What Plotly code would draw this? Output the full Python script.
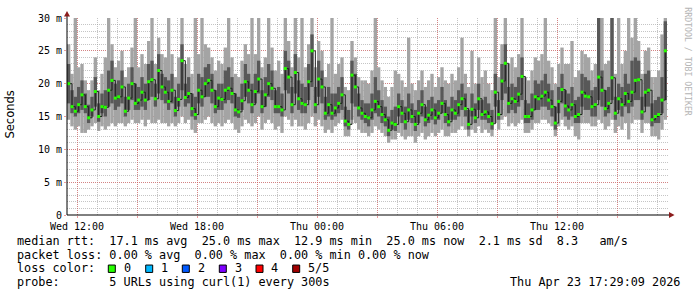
import pandas as pd
import plotly.graph_objects as go

# ---------------- data (milliseconds) ----------------
START = "2026-04-22 11:35"     # centre of first 10-minute bin
STEP = "10min"

median_ms = [
20.0,16.5,15.8,16.8,18.3,16.5,14.8,16.0,18.8,15.0,
16.5,16.4,19.0,20.5,17.8,18.0,19.5,15.8,17.8,20.0,
17.0,17.5,18.7,17.5,20.3,20.6,17.7,22.0,19.5,18.7,
17.3,19.0,15.9,17.6,23.5,17.9,18.5,16.2,15.3,19.0,
18.0,20.0,20.5,19.0,16.5,17.8,17.6,19.0,19.3,18.5,
16.0,15.7,17.4,20.3,19.0,16.8,18.8,20.7,16.5,18.3,
20.0,19.3,16.5,16.5,16.0,22.3,21.0,16.8,21.7,17.7,
17.0,16.8,20.3,25.0,16.8,20.7,19.5,15.5,16.8,15.5,
16.3,17.0,18.3,14.3,13.8,21.3,19.5,16.3,15.5,15.0,
14.8,16.0,17.3,16.5,15.3,14.5,12.9,14.0,13.8,16.5,
15.5,14.2,16.0,15.0,13.8,15.5,16.8,14.5,15.2,16.0,
14.8,15.5,17.0,15.3,14.2,16.0,15.5,16.8,17.7,16.2,
13.8,16.1,14.8,17.7,15.3,15.7,15.0,13.9,18.7,15.3,
20.4,23.1,17.0,17.7,17.3,18.4,21.1,15.0,15.0,16.0,
18.0,17.7,18.1,18.7,17.5,16.5,14.0,17.3,19.1,16.6,
16.0,16.8,15.0,15.3,18.7,18.1,18.0,16.5,16.8,21.0,
19.0,16.2,17.0,20.9,15.5,17.7,16.8,18.5,17.3,18.7,
20.5,20.6,15.7,18.7,19.0,14.5,15.0,15.3,17.5,25.0,
]

ping_lo_ms = [
14.5,13.5,13.0,13.5,12.5,12.5,13.0,13.5,14.0,12.8,
13.5,13.0,13.5,14.0,13.5,14.0,14.0,13.5,14.0,14.5,
14.0,14.0,14.5,13.5,14.5,14.0,14.0,14.5,14.0,14.0,
13.5,14.0,13.5,14.0,15.0,14.0,14.5,13.0,12.5,14.0,
14.0,14.5,15.0,14.0,13.5,14.0,13.5,14.0,14.5,14.0,
13.0,12.5,13.5,14.5,14.0,13.5,14.0,15.0,13.0,14.0,
14.5,14.0,13.0,13.5,12.5,15.0,14.5,13.5,14.5,13.5,
13.5,13.0,14.0,15.0,13.5,14.5,13.5,12.5,13.0,12.5,
13.5,14.0,14.5,12.0,12.0,14.5,14.0,13.0,12.5,12.5,
12.0,12.5,13.5,13.0,12.5,12.0,11.0,11.5,11.5,12.5,
12.0,11.5,12.0,12.0,11.0,12.0,12.5,11.5,12.0,12.5,
12.0,12.5,13.0,12.0,12.0,12.5,12.5,13.0,13.5,13.0,
12.0,13.0,12.5,13.5,12.5,13.0,12.5,12.0,14.0,13.0,
14.5,15.0,13.5,14.0,13.5,14.0,14.5,12.5,12.5,13.0,
14.0,14.0,14.5,14.5,14.0,13.5,12.0,13.5,14.5,13.5,
13.0,13.5,12.0,11.5,14.0,14.0,14.0,13.5,13.5,14.5,
14.0,13.0,13.5,14.5,12.5,13.5,13.0,14.0,11.5,14.0,
14.5,14.5,12.5,14.0,14.0,12.0,12.0,11.5,13.0,14.5,
]

ping_q1_ms = [
17.0,15.5,15.0,15.5,16.0,15.5,14.0,15.0,16.5,14.2,
15.5,15.0,16.5,17.0,16.0,16.5,17.0,15.0,16.0,17.5,
16.0,16.0,16.5,16.0,17.5,18.0,16.5,18.5,17.5,17.0,
16.0,17.0,15.0,16.5,19.0,16.5,17.0,15.0,14.5,17.0,
16.5,18.0,18.0,17.0,15.5,16.0,16.0,17.0,17.5,17.0,
15.0,14.8,16.0,18.0,17.0,15.5,17.0,18.5,15.5,16.5,
18.0,17.5,15.5,15.5,15.0,19.0,18.5,15.5,18.5,16.0,
15.5,15.5,17.5,19.5,15.5,18.0,17.0,14.5,15.0,14.5,
15.0,15.5,16.0,13.5,13.0,17.0,16.5,15.0,14.5,14.0,
13.5,14.5,15.5,15.0,14.0,13.5,12.0,13.0,12.8,15.0,
14.0,13.0,14.5,14.0,12.8,14.0,15.0,13.5,14.0,14.5,
13.8,14.5,15.5,14.0,13.5,14.5,14.5,15.0,16.0,15.0,
13.0,15.0,14.0,16.0,14.5,14.5,14.0,13.0,16.5,14.5,
17.5,18.5,15.5,16.0,15.5,16.5,17.5,14.0,14.0,14.5,
16.0,16.0,16.5,16.5,16.0,15.0,13.0,15.5,17.0,15.0,
14.5,15.0,14.0,14.0,16.5,16.0,16.0,15.0,15.0,17.5,
16.5,15.0,15.5,17.5,14.5,16.0,15.0,16.5,15.5,16.5,
17.5,17.5,14.5,16.5,16.5,13.5,14.0,14.0,15.5,17.5,
]

ping_q3_ms = [
23.0,19.0,18.0,19.5,20.5,18.5,16.8,18.0,21.0,17.0,
18.5,19.0,22.0,23.5,20.0,20.5,22.0,18.0,20.0,22.5,
20.0,19.5,21.0,20.0,23.0,23.5,20.0,24.5,21.5,21.0,
20.5,21.5,18.0,20.0,26.0,20.0,21.0,18.5,18.0,21.5,
21.0,22.5,23.0,21.5,19.0,20.0,20.0,22.0,22.5,21.0,
18.5,18.0,20.0,23.0,21.5,20.0,21.5,23.5,19.0,21.0,
23.0,22.0,19.0,19.5,18.5,25.0,23.5,19.5,24.5,20.5,
20.0,19.5,23.0,27.5,19.5,23.5,22.0,18.0,19.5,18.5,
18.5,19.5,21.0,16.5,16.0,23.5,21.5,18.5,17.5,17.0,
17.0,18.5,21.0,19.0,17.5,16.5,15.0,16.0,16.5,18.5,
17.5,16.5,18.5,17.0,16.0,17.5,19.0,16.5,17.5,18.0,
17.0,17.5,19.5,17.5,16.5,18.0,17.5,19.0,20.0,18.5,
16.0,18.5,17.0,20.0,17.5,18.0,17.0,16.0,21.5,17.5,
23.0,26.0,19.5,20.0,19.5,21.0,24.0,17.5,17.0,18.5,
20.5,20.0,20.5,21.5,20.0,19.0,16.5,19.5,21.5,19.0,
18.5,19.5,17.5,18.0,21.5,21.0,20.5,19.0,19.5,31.0,
22.0,19.0,19.5,31.0,18.0,20.0,19.5,21.5,20.0,23.5,
24.0,23.5,18.0,21.5,22.0,17.0,17.5,18.0,21.0,29.5,
]

ping_hi_ms = [
26.0,21.5,31.0,22.5,23.0,20.5,19.0,20.5,24.0,19.0,
21.5,24.0,31.0,26.0,22.5,23.5,25.0,21.0,22.5,25.5,
31.0,22.5,24.5,23.0,26.5,31.0,23.0,27.0,24.5,24.0,
31.0,24.5,21.0,24.0,31.0,23.0,24.0,21.5,31.0,24.5,
31.0,26.0,25.5,24.0,22.0,23.5,23.0,25.5,31.0,24.0,
21.5,21.0,23.5,26.0,24.5,31.0,24.5,31.0,22.5,24.0,
31.0,25.5,22.0,23.5,21.5,31.0,26.5,22.5,31.0,24.0,
31.0,22.5,26.0,31.0,22.5,26.5,25.0,21.0,23.0,31.0,
21.5,23.0,24.0,19.5,19.0,26.5,24.0,21.0,20.5,20.5,
20.0,22.0,31.0,22.5,20.5,19.5,18.0,19.5,22.0,21.5,
20.5,19.5,27.0,20.0,19.0,20.5,22.0,19.5,20.5,21.5,
19.5,21.0,22.5,20.5,20.0,21.5,20.5,22.5,27.0,21.5,
19.5,25.0,20.0,24.0,21.0,22.0,20.0,19.0,31.0,21.0,
26.0,31.0,23.0,24.0,22.5,24.5,31.0,21.0,20.5,22.0,
24.0,23.5,24.5,31.0,23.5,22.5,20.0,23.0,25.5,23.0,
23.0,26.5,21.0,22.0,25.0,24.5,24.0,22.0,23.0,31.0,
31.0,23.0,23.5,31.0,21.5,31.0,23.0,25.0,31.0,27.0,
31.0,26.5,21.5,25.0,25.5,21.0,21.0,22.0,27.5,31.0,
]

X_RANGE = ["2026-04-22 11:30", "2026-04-23 17:33"]
x_tickvals = ["2026-04-22 12:00", "2026-04-22 15:00", "2026-04-22 18:00", "2026-04-22 21:00",
              "2026-04-23 00:00", "2026-04-23 03:00", "2026-04-23 06:00", "2026-04-23 09:00",
              "2026-04-23 12:00", "2026-04-23 15:00"]
x_ticktext = ["Wed 12:00", "", "Wed 18:00", "", "Thu 00:00", "", "Thu 06:00", "", "Thu 12:00", ""]
y_tickvals = [0, 5, 10, 15, 20, 25, 30]
y_ticktext = ["0", "5 m", "10 m", "15 m", "20 m", "25 m", "30 m"]

legend_rows = [
    "median rtt:  17.1 ms avg  25.0 ms max  12.9 ms min  25.0 ms now  2.1 ms sd  8.3   am/s",
    "packet loss: 0.00 % avg  0.00 % max  0.00 % min 0.00 % now",
    "loss color:",
    "probe:       5 URLs using curl(1) every 300s",
]
loss_labels = ["0", "1", "2", "3", "4", "5/5"]
loss_colors = ["#26ff00", "#00b8ff", "#0059ff", "#7e00ff", "#ff0000", "#a10000"]
timestamp_text = "Thu Apr 23 17:29:09 2026"

# ---------------- geometry ----------------
W, H = 697, 297
L, T, PW, PH = 67, 15, 601, 200
R = W - L - PW
B = H - T - PH

def fx(px):
    return (px - L) / PW

def fy(py):
    return (T + PH - py) / PH

MONO = "DejaVu Sans Mono"
TXT = 11.8
GRID_MAJOR = "rgba(222,79,79,0.55)"
GRID_MINOR = "rgba(150,150,150,0.55)"

times = pd.date_range(START, periods=len(median_ms), freq=STEP)
bin_ms = pd.Timedelta(STEP).total_seconds() * 1000

fig = go.Figure()

fig.add_trace(go.Bar(
    x=times, base=ping_lo_ms, y=[h - l for h, l in zip(ping_hi_ms, ping_lo_ms)],
    width=bin_ms, marker=dict(color="#a4a4a4", line=dict(width=0)),
    hoverinfo="skip"))
fig.add_trace(go.Bar(
    x=times, base=ping_q1_ms, y=[h - l for h, l in zip(ping_q3_ms, ping_q1_ms)],
    width=bin_ms, marker=dict(color="#585858", line=dict(width=0)),
    hoverinfo="skip"))
fig.add_trace(go.Scatter(
    x=times, y=median_ms, mode="lines", line=dict(color="#202020", width=1, shape="hv"),
    hoverinfo="skip"))
fig.add_trace(go.Scatter(
    x=times, y=median_ms, mode="markers",
    marker=dict(symbol="square", size=3, color="#26ff00", line=dict(width=0)),
    hoverinfo="skip"))

annotations = []
shapes = []

# legend text rows
row_y = [241.5, 255.2, 269.3, 283.3]
for txt, py in zip(legend_rows, row_y):
    annotations.append(dict(
        text=txt.replace(" ", "\u00a0"), x=fx(16), y=fy(py), xref="paper", yref="paper",
        xanchor="left", yanchor="middle", showarrow=False, borderpad=0,
        font=dict(family=MONO, size=TXT, color="#000000")))

box_left = [108.3, 145.7, 182.3, 219.3, 256.0, 292.7]
label_left = [122.5, 160.0, 196.6, 233.6, 270.0, 306.6]
for bl, ll, lab, col in zip(box_left, label_left, loss_labels, loss_colors):
    shapes.append(dict(type="rect", xref="paper", yref="paper",
                       x0=fx(bl), x1=fx(bl + 7), y0=fy(273.3), y1=fy(265.8),
                       fillcolor=col, line=dict(color="#000000", width=1)))
    annotations.append(dict(
        text=lab, x=fx(ll), y=fy(row_y[2]), xref="paper", yref="paper",
        xanchor="left", yanchor="middle", showarrow=False, borderpad=0,
        font=dict(family=MONO, size=TXT, color="#000000")))

annotations.append(dict(
    text=timestamp_text.replace(" ", "\u00a0"), x=fx(681), y=fy(row_y[3]),
    xref="paper", yref="paper", xanchor="right", yanchor="middle", showarrow=False,
    borderpad=0, font=dict(family=MONO, size=TXT, color="#000000")))

# y axis title
annotations.append(dict(
    text="Seconds", x=fx(10), y=fy(113), xref="paper", yref="paper",
    xanchor="center", yanchor="middle", textangle=-90, showarrow=False, borderpad=0,
    font=dict(family="DejaVu Sans", size=11.5, color="#000000")))

# watermark
annotations.append(dict(
    text="RRDTOOL / TOBI OETIKER", x=fx(688), y=fy(59), xref="paper", yref="paper",
    xanchor="center", yanchor="middle", textangle=90, showarrow=False, borderpad=0,
    font=dict(family=MONO, size=8.2, color="#b4b4b4")))

# axis extension + arrows
ARROW = "#8c1c1c"
shapes.append(dict(type="line", xref="paper", yref="paper",
                   x0=fx(67), x1=fx(67), y0=fy(215), y1=fy(11),
                   line=dict(color="#000000", width=1)))
shapes.append(dict(type="line", xref="paper", yref="paper",
                   x0=fx(67), x1=fx(671), y0=fy(215), y1=fy(215),
                   line=dict(color="#000000", width=1)))
shapes.append(dict(type="path", xref="paper", yref="paper",
                   path=f"M {fx(64)},{fy(13.5)} L {fx(70)},{fy(13.5)} L {fx(67)},{fy(8)} Z",
                   fillcolor=ARROW, line=dict(color=ARROW, width=0)))
shapes.append(dict(type="path", xref="paper", yref="paper",
                   path=f"M {fx(669)},{fy(212)} L {fx(669)},{fy(218)} L {fx(674.5)},{fy(215)} Z",
                   fillcolor=ARROW, line=dict(color=ARROW, width=0)))

fig.update_layout(
    width=W, height=H, autosize=False,
    margin=dict(l=L, r=R, t=T, b=B, pad=0),
    paper_bgcolor="#ffffff", plot_bgcolor="#ffffff",
    barmode="overlay", showlegend=False,
    annotations=annotations, shapes=shapes,
    xaxis=dict(
        type="date", range=X_RANGE, tickmode="array", tickvals=x_tickvals, ticktext=x_ticktext,
        tickfont=dict(family=MONO, size=10, color="#000000"),
        showgrid=True, gridcolor=GRID_MAJOR, griddash="1px,1px", gridwidth=1,
        ticks="outside", ticklen=2, tickcolor=GRID_MAJOR,
        minor=dict(dtick=3600000, tick0="2026-04-22 12:00", showgrid=True,
                   gridcolor=GRID_MINOR, griddash="1px,1px", gridwidth=1),
        showline=False, zeroline=False, fixedrange=True),
    yaxis=dict(
        range=[0, 30], tickmode="array", tickvals=y_tickvals, ticktext=y_ticktext,
        tickfont=dict(family=MONO, size=10, color="#000000"),
        showgrid=True, gridcolor=GRID_MAJOR, griddash="1px,1px", gridwidth=1,
        ticks="outside", ticklen=2, tickcolor=GRID_MAJOR,
        minor=dict(dtick=1, tick0=0, showgrid=True,
                   gridcolor=GRID_MINOR, griddash="1px,1px", gridwidth=1),
        showline=False, zeroline=False, fixedrange=True),
)

fig.write_html("out.html", config={"displayModeBar": False})
